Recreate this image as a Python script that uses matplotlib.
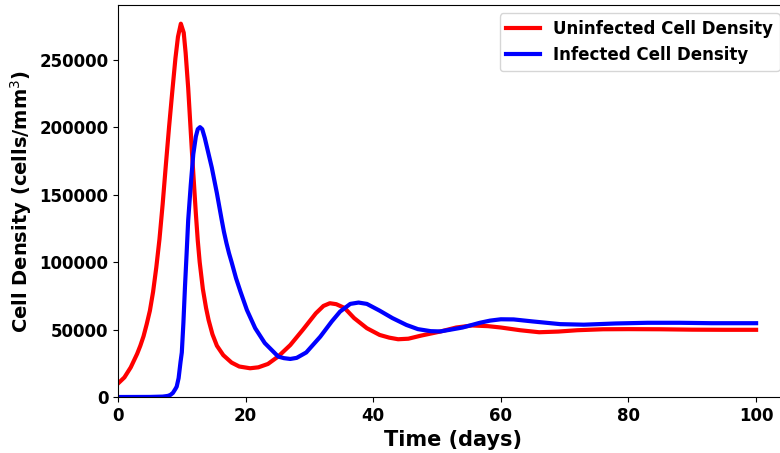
import matplotlib
matplotlib.use("Agg")
import matplotlib.pyplot as plt

# Datos
t_sano = [0, 1, 2, 3, 3.5, 4, 4.5, 5, 5.5, 6, 6.5, 7, 7.5, 8, 8.5, 9, 9.4, 9.85, 10.3,
          10.6, 11.0, 11.6, 12.2, 12.5, 12.8, 13.3, 13.8, 14.2, 14.8, 15.5, 16.5,
          17.8, 19, 20.7, 22, 23.5, 25.1, 27, 29, 31, 32.2, 33.2, 34.2, 35.5, 37,
          39, 41, 42.5, 43.9, 45.5, 47.5, 50.5, 53, 55.5, 58, 60, 63, 66, 69, 72,
          76, 80, 85, 90, 95, 100]
sano = [10000, 14500, 22000, 32000, 38000, 45000, 54000, 64000, 78000, 96000,
        117000, 143000, 172000, 200000, 226000, 251000, 267000, 276700, 270000,
        255000, 229000, 180800, 136000, 116000, 100000, 80000, 66000, 57000,
        46500, 38000, 31000, 25500, 22600, 21300, 22000, 24500, 30000, 38500,
        50000, 62000, 67500, 69500, 68800, 66000, 58500, 51000, 46000, 44000,
        42800, 43200, 45500, 48500, 51500, 53000, 52500, 51500, 49500, 48000,
        48500, 49500, 50200, 50300, 50200, 49900, 49800, 49800]

t_infectado = [0, 5, 7, 7.8, 8.2, 8.6, 9.0, 9.2, 9.5, 9.8, 10.0, 10.25, 10.5, 10.75,
               11.0, 11.4, 11.8, 12.2, 12.5, 12.85, 13.2, 13.6, 14.16, 14.7, 15.5,
               16.25, 16.6, 17, 17.4, 17.8, 18.5, 19.2, 20.2, 21.5, 23, 25.1, 26, 27,
               28, 29.5, 31.7, 33.5, 34.8, 36.4, 37.7, 39, 41, 43, 45.2, 47, 49,
               50.5, 52, 54, 56.7, 58.3, 60, 62, 65, 69.3, 73, 78, 83, 88, 93, 100]
infectado = [0, 50, 300, 800, 1500, 3000, 6000, 7700, 14000, 26000, 33000, 55000,
             82000, 106000, 131000, 157000, 180000, 193000, 198500, 200000, 198500,
             192000, 180800, 170000, 151000, 131300, 122500, 114000, 106500, 100000,
             88000, 78000, 64500, 51000, 40000, 30000, 28800, 28200, 29000, 33000,
             44700, 56000, 63300, 69000, 70000, 69000, 64000, 58500, 53400, 50300,
             48800, 48600, 49800, 51500, 55000, 56600, 57600, 57500, 56000, 54000,
             53600, 54500, 55000, 55000, 54700, 54700]

fig = plt.figure(figsize=(7.8, 4.53), dpi=100)
ax = fig.add_axes([118 / 780, 56 / 453, 670 / 780, 392 / 453])

ax.plot(t_sano, sano, color='red', linewidth=3, label='Uninfected Cell Density')
ax.plot(t_infectado, infectado, color='blue', linewidth=3, label='Infected Cell Density')

ax.set_xlim(0, 105)
ax.set_ylim(bottom=0)

ax.set_xlabel('Time (days)', fontsize=15, fontweight='bold')
ax.set_ylabel('Cell Density (cells/mm$^3$)', fontsize=14, fontweight='bold')

for lab in ax.get_xticklabels() + ax.get_yticklabels():
    lab.set_fontsize(12)
    lab.set_fontweight('bold')

ax.legend(loc='upper right', prop={'size': 12, 'weight': 'bold'})

fig.savefig('out.png', dpi=100)
